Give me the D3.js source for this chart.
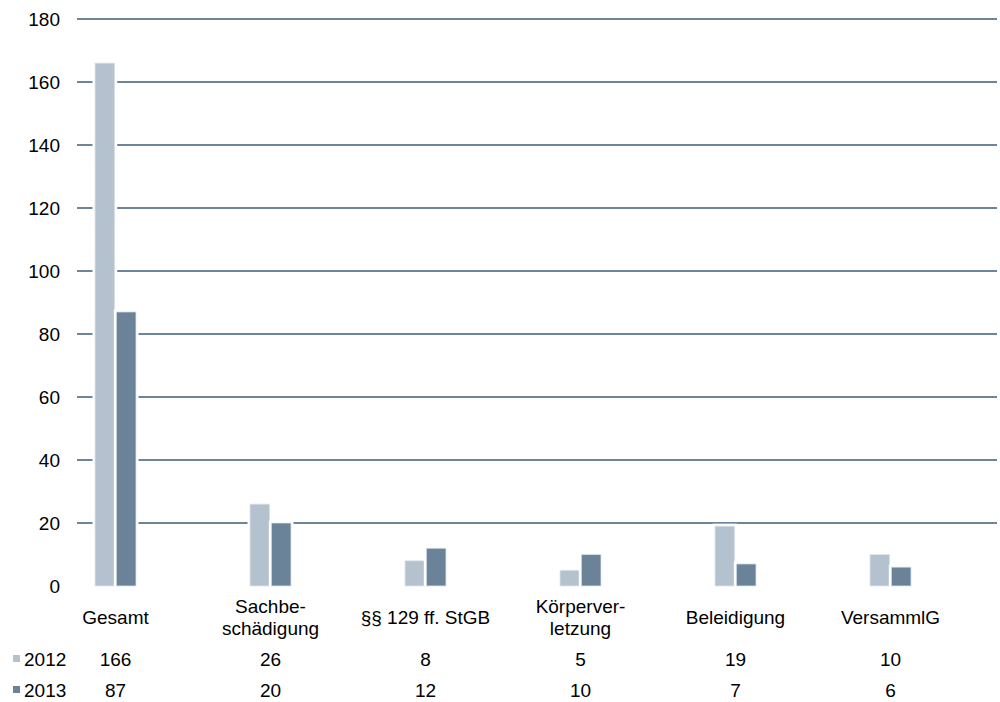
<!DOCTYPE html>
<html><head><meta charset="utf-8">
<script src="https://cdn.jsdelivr.net/npm/d3@7"></script>
<style>body{margin:0;background:#fff}svg{display:block}text{font-family:"Liberation Sans",Arial,sans-serif;fill:#000}</style>
</head><body><svg id="c" width="1000" height="702"></svg>
<script>
const categories = [["Gesamt"],["Sachbe-","schädigung"],["§§ 129 ff. StGB"],["Körperver-","letzung"],["Beleidigung"],["VersammlG"]];
const seriesNames = ["2012","2013"];
const values2012 = [166,26,8,5,19,10];
const values2013 = [87,20,12,10,7,6];
const yTicks = [0,20,40,60,80,100,120,140,160,180];
const colors = ["#b4c1ce","#6b8399"];

const svg = d3.select("#c");
const y = d3.scaleLinear().domain([0,180]).range([586,19]);
const x = d3.scaleBand().domain(d3.range(categories.length)).range([38,968]);
const inner = d3.scaleBand().domain([0,1]).range([-20.5,20.5]).paddingInner(0.075);

// gridlines (not at 0)
svg.append("g").selectAll("line").data(yTicks.filter(d=>d>0)).join("line")
  .attr("x1",77).attr("x2",997).attr("y1",d=>y(d)).attr("y2",d=>y(d))
  .attr("stroke","#6d849b").attr("stroke-width",2);
// tick labels
svg.append("g").selectAll("text").data(yTicks).join("text")
  .attr("x",60).attr("y",d=>y(d)+7).attr("text-anchor","end")
  .style("font-size","19px").text(d=>d);

const series = [values2012, values2013];
series.forEach((vals,si)=>{
  const g = svg.append("g");
  // white halo
  g.selectAll("rect.h").data(vals).join("rect").attr("class","h")
    .attr("x",(d,i)=>x(i)+x.bandwidth()/2+inner(si)-2.5)
    .attr("width",inner.bandwidth()+5)
    .attr("y",d=>y(d)-2.5).attr("height",d=>y(0)-y(d)+2.5)
    .attr("fill","#fff");
  g.selectAll("rect.b").data(vals).join("rect").attr("class","b")
    .attr("x",(d,i)=>x(i)+x.bandwidth()/2+inner(si))
    .attr("width",inner.bandwidth())
    .attr("y",d=>y(d)).attr("height",d=>y(0)-y(d))
    .attr("fill",colors[si]).attr("stroke","#dfe5eb").attr("stroke-width",0.8);
});

// category labels
categories.forEach((lines,i)=>{
  const cx = x(i)+x.bandwidth()/2;
  const t = svg.append("text").attr("text-anchor","middle").style("font-size","19px");
  if(lines.length===1){
    t.append("tspan").attr("x",cx).attr("y",624).text(lines[0]);
  } else {
    lines.forEach((l,k)=>t.append("tspan").attr("x",cx).attr("y",613+k*22).text(l));
  }
});

// data table
const rowY = [666,697];
series.forEach((vals,si)=>{
  svg.append("rect").attr("x",13).attr("y",rowY[si]-11).attr("width",7).attr("height",7).attr("fill",colors[si]);
  svg.append("text").attr("x",24).attr("y",rowY[si]).style("font-size","19px").text(seriesNames[si]);
  svg.append("g").selectAll("text").data(vals).join("text")
    .attr("x",(d,i)=>x(i)+x.bandwidth()/2).attr("y",rowY[si])
    .attr("text-anchor","middle").style("font-size","19px").text(d=>d);
});
</script></body></html>
